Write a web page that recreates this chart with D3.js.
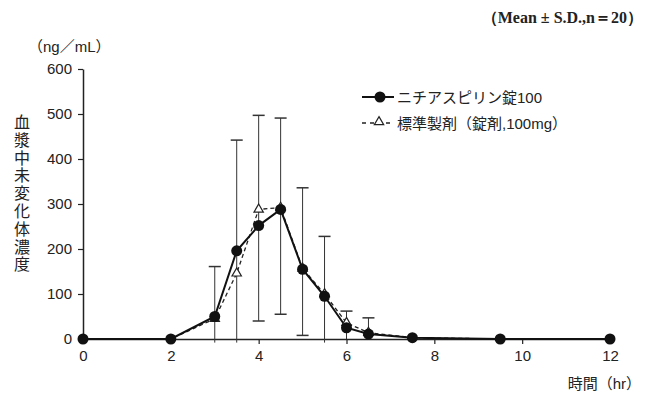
<!DOCTYPE html>
<html>
<head>
<meta charset="utf-8">
<script src="https://cdn.jsdelivr.net/npm/d3@7"></script>
<style>
  body { margin: 0; background: #fff; }
  svg text { font-family: "Liberation Sans", "Noto Sans CJK JP", sans-serif; fill: #222; }
</style>
</head>
<body>
<div id="plot"></div>
<script>
// time points (hr)
const times = [0, 2, 3, 3.5, 4, 4.5, 5, 5.5, 6, 6.5, 7.5, 9.5, 12];
// ニチアスピリン錠100 mean
const testMean = [0, 0, 50, 196, 252, 288, 155, 95, 25, 11, 3, 0, 0];
// 標準製剤 mean
const refMean = [0, 0, 45, 146, 288, 292, 157, 100, 36, 14, 3, 0, 0];
// error bar ends (upper / lower), null = not drawn
const sdUpper = [null, null, 161, 442, 497, 491, 336, 228, 62, 47, null, null, null];
const sdLower = [null, null, -8, -8, 40, 55, 8, -8, null, null, null, null, null];

const xTicks = [0, 2, 4, 6, 8, 10, 12];
const yTicks = [0, 100, 200, 300, 400, 500, 600];
const seriesNames = ["ニチアスピリン錠100", "標準製剤（錠剤,100mg）"];
const yTitle = "血漿中未変化体濃度";

const margin = { top: 69, left: 83 };
const width = 527;   // 0..12 hr
const height = 270;  // 0..600

const svg = d3.select("#plot")
  .append("svg")
  .attr("width", 662)
  .attr("height", 401);

const g = svg.append("g")
  .attr("transform", `translate(${margin.left},${margin.top})`);

const x = d3.scaleLinear().domain([0, 12]).range([0, width]);
const y = d3.scaleLinear().domain([0, 600]).range([height, 0]);

// axes
const xAxis = g.append("g")
  .attr("transform", `translate(0,${height})`)
  .call(d3.axisBottom(x).tickValues(xTicks).tickSize(5).tickSizeOuter(0).tickPadding(6));
const yAxis = g.append("g")
  .call(d3.axisLeft(y).tickValues(yTicks).tickSize(5).tickSizeOuter(0).tickPadding(6));

[xAxis, yAxis].forEach(a => {
  a.select(".domain").attr("stroke", "#222").attr("stroke-width", 1.5);
  a.selectAll(".tick line").attr("stroke", "#222").attr("stroke-width", 1.2);
  a.selectAll(".tick text")
    .style("font-size", "15px")
    .style("font-family", "Liberation Sans, sans-serif")
    .attr("fill", "#222");
});

// error bars
const bars = times.map((t, i) => ({ t, up: sdUpper[i], lo: sdLower[i] }))
  .filter(d => d.up !== null);
const capW = 6;

g.selectAll(".eb")
  .data(bars)
  .enter()
  .append("line")
  .attr("x1", d => x(d.t)).attr("x2", d => x(d.t))
  .attr("y1", d => y(d.up)).attr("y2", d => y(d.lo === null ? 0 : d.lo))
  .attr("stroke", "#333").attr("stroke-width", 1);

g.selectAll(".capU")
  .data(bars)
  .enter()
  .append("line")
  .attr("x1", d => x(d.t) - capW).attr("x2", d => x(d.t) + capW)
  .attr("y1", d => y(d.up)).attr("y2", d => y(d.up))
  .attr("stroke", "#333").attr("stroke-width", 1.5);

g.selectAll(".capL")
  .data(bars.filter(d => d.lo !== null && d.lo > 0))
  .enter()
  .append("line")
  .attr("x1", d => x(d.t) - capW).attr("x2", d => x(d.t) + capW)
  .attr("y1", d => y(d.lo)).attr("y2", d => y(d.lo))
  .attr("stroke", "#333").attr("stroke-width", 1.5);

const line = d3.line()
  .x(d => x(d[0]))
  .y(d => y(d[1]));

const refPts = times.map((t, i) => [t, refMean[i]]);
const testPts = times.map((t, i) => [t, testMean[i]]);

g.append("path")
  .datum(refPts)
  .attr("d", line)
  .attr("fill", "none")
  .attr("stroke", "#222")
  .attr("stroke-width", 1.3)
  .attr("stroke-dasharray", "4,3");

g.append("path")
  .datum(testPts)
  .attr("d", line)
  .attr("fill", "none")
  .attr("stroke", "#111")
  .attr("stroke-width", 2);

const tri = d3.symbol().type(d3.symbolTriangle).size(38);
const dot = d3.symbol().type(d3.symbolCircle).size(95);

g.selectAll(".tri")
  .data(refPts.filter(d => d[0] >= 3 && d[0] <= 6.5))
  .enter()
  .append("path")
  .attr("d", tri)
  .attr("transform", d => `translate(${x(d[0])},${y(d[1])})`)
  .attr("fill", "#fff")
  .attr("stroke", "#222")
  .attr("stroke-width", 1.2);

g.selectAll(".dot")
  .data(testPts)
  .enter()
  .append("path")
  .attr("d", dot)
  .attr("transform", d => `translate(${x(d[0])},${y(d[1])})`)
  .attr("fill", "#111");

// legend
const lg = svg.append("g").attr("transform", "translate(362,97)");
lg.append("line").attr("x1", 0).attr("x2", 32).attr("y1", 0).attr("y2", 0)
  .attr("stroke", "#111").attr("stroke-width", 2);
lg.append("path").attr("d", dot).attr("transform", "translate(18,0)").attr("fill", "#111");
lg.append("text").attr("x", 35).attr("y", 5.5).style("font-size", "15px").text(seriesNames[0]);

lg.append("line").attr("x1", 0).attr("x2", 32).attr("y1", 26).attr("y2", 26)
  .attr("stroke", "#222").attr("stroke-width", 1.3).attr("stroke-dasharray", "4,4");
lg.append("path").attr("d", tri).attr("transform", "translate(17,25)")
  .attr("fill", "#fff").attr("stroke", "#222").attr("stroke-width", 1.2);
lg.append("text").attr("x", 35).attr("y", 31.5).style("font-size", "15px").text(seriesNames[1]);

// titles
svg.append("text")
  .attr("x", 643).attr("y", 23)
  .attr("text-anchor", "end")
  .style("font-family", "Liberation Serif, serif")
  .style("font-size", "16px")
  .style("font-weight", "bold")
  .text("（Mean ± S.D.,n＝20）");

svg.append("text")
  .attr("x", 28).attr("y", 52)
  .style("font-size", "15px")
  .text("（ng／mL）");

const yt = svg.append("text")
  .attr("text-anchor", "middle")
  .style("font-size", "16px");
yt.selectAll("tspan")
  .data(yTitle.split(""))
  .enter()
  .append("tspan")
  .attr("x", 22)
  .attr("y", (d, i) => 128 + i * 17.8)
  .text(d => d);

svg.append("text")
  .attr("x", 641).attr("y", 389)
  .attr("text-anchor", "end")
  .style("font-size", "15px")
  .text("時間（hr）");
</script>
</body>
</html>
